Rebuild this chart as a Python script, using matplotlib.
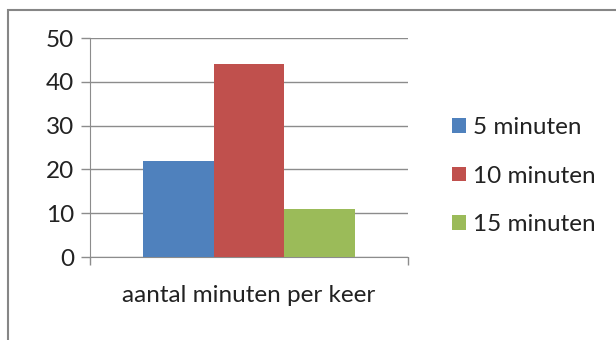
import matplotlib.pyplot as plt
from matplotlib.patches import Rectangle

categories = ["aantal minuten per keer"]
series = ["5 minuten", "10 minuten", "15 minuten"]
values = [22, 44, 11]
colors = ["#4F81BD", "#C0504D", "#9BBB59"]
yticks = [0, 10, 20, 30, 40, 50]


def main():
    plt.rcParams["font.family"] = ["Lato", "DejaVu Sans"]
    fig = plt.figure(figsize=(6.16, 3.4), dpi=100)
    ax = fig.add_axes([0.1461, 0.2441, 0.5162, 0.6441])

    # three bars side by side, centered in the category slot
    width = 0.2217
    offsets = [-width, 0, width]
    for name, val, col, off in zip(series, values, colors, offsets):
        ax.bar(0.5 + off, val, width=width, color=col, label=name, zorder=3)

    ax.set_xlim(0, 1)
    ax.set_ylim(0, 50)
    ax.set_yticks(yticks)
    ax.set_xticks([0, 1])
    ax.set_xticklabels([])
    ax.grid(axis="y", color="#8c8c8c", linewidth=1, zorder=0)
    ax.tick_params(axis="y", direction="out", length=6.5, width=1, color="#8c8c8c",
                   labelsize=17.5, labelcolor="#222222", pad=5)
    ax.tick_params(axis="x", direction="out", length=6, width=1, color="#8c8c8c")
    for side in ["top", "right"]:
        ax.spines[side].set_visible(False)
    ax.spines["left"].set_color("#8c8c8c")
    ax.spines["bottom"].set_color("#8c8c8c")
    ax.set_xlabel(categories[0], fontsize=17.5, color="#222222", labelpad=11)

    ax.legend(loc="center left", bbox_to_anchor=(0.699, 0.482), bbox_transform=fig.transFigure,
              frameon=False, fontsize=17.5, handlelength=0.55, handleheight=0.55,
              handletextpad=0.3, labelspacing=1.12, labelcolor="#222222")

    # chart frame
    fig.patches.append(Rectangle((8 / 616, -0.1), 1.2, 1 - 10 / 340 + 0.1, transform=fig.transFigure,
                                 fill=False, edgecolor="#868686", linewidth=1.5))

    fig.savefig("out.png", dpi=100)


if __name__ == "__main__":
    main()
